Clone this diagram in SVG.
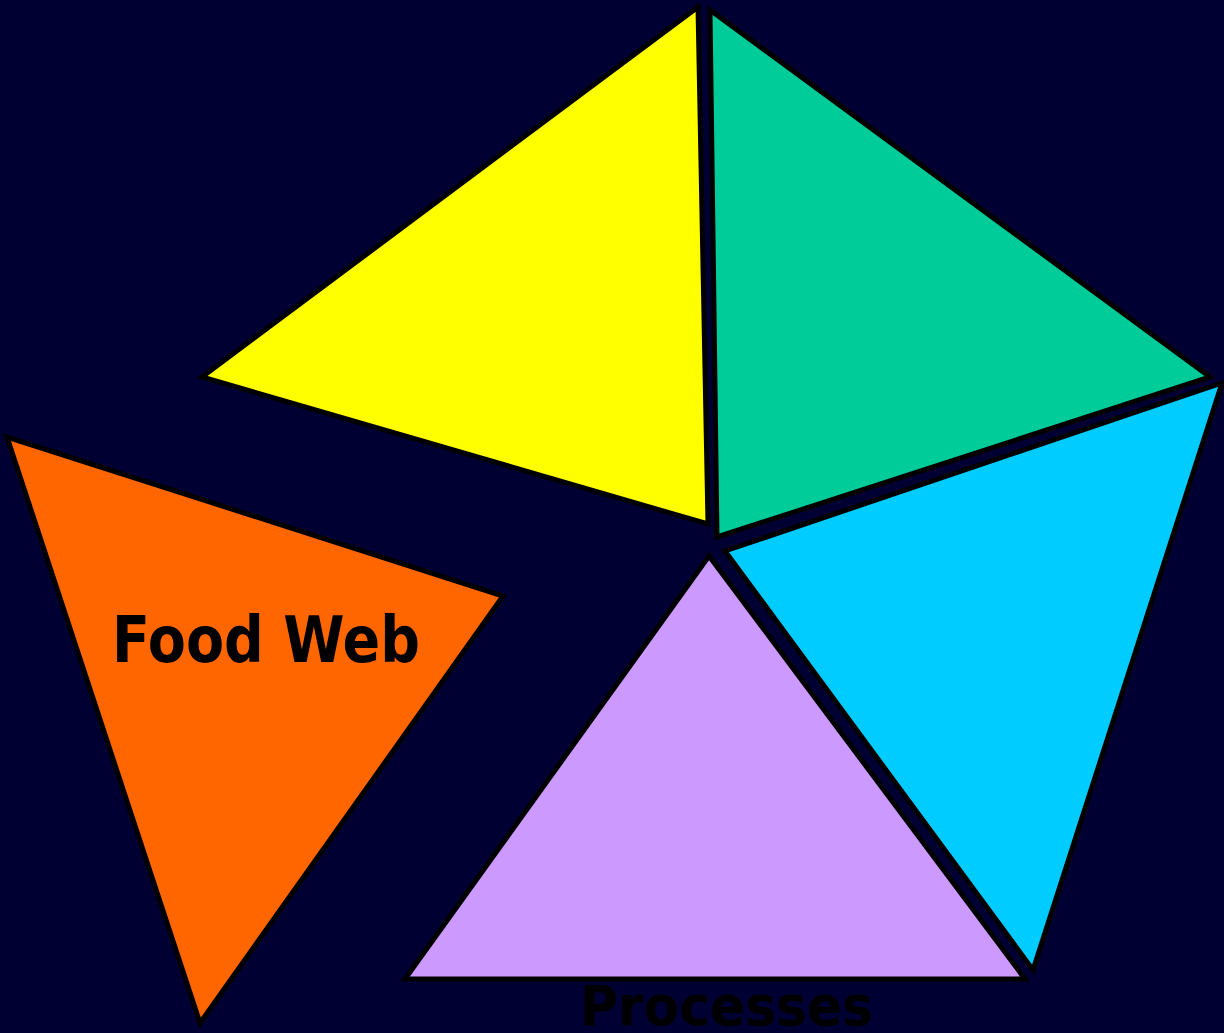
<svg xmlns="http://www.w3.org/2000/svg" width="1224" height="1033" viewBox="0 0 1224 1033">
<style>
.tri{stroke:#000;stroke-width:5;stroke-linejoin:miter}
.lbl{font-family:"Comic Sans MS","DejaVu Sans",sans-serif;font-weight:bold;fill:#000}
</style>
<rect width="1224" height="1033" fill="#000033"/>
<g id="yellow"><polygon class="tri" fill="#FFFF00" points="202,377 698,7 708,524"/></g>
<g id="green"><polygon class="tri" fill="#00CC99" points="710,10 1210,377 717,537"/></g>
<g id="cyan"><polygon class="tri" fill="#00CCFF" points="1222,383 1033,970 725,551"/></g>
<g id="purple"><polygon class="tri" fill="#CC99FF" points="709,556 1025,979 405,979"/></g>
<g id="orange"><polygon class="tri" fill="#FF6600" points="7,437 503,596 200,1023"/></g>
<g id="labels">
<text class="lbl" x="112" y="662" font-size="64" textLength="308" lengthAdjust="spacingAndGlyphs">Food Web</text>
<text class="lbl" x="580" y="1025" font-size="55" textLength="293" lengthAdjust="spacingAndGlyphs">Processes</text>
</g>
</svg>
